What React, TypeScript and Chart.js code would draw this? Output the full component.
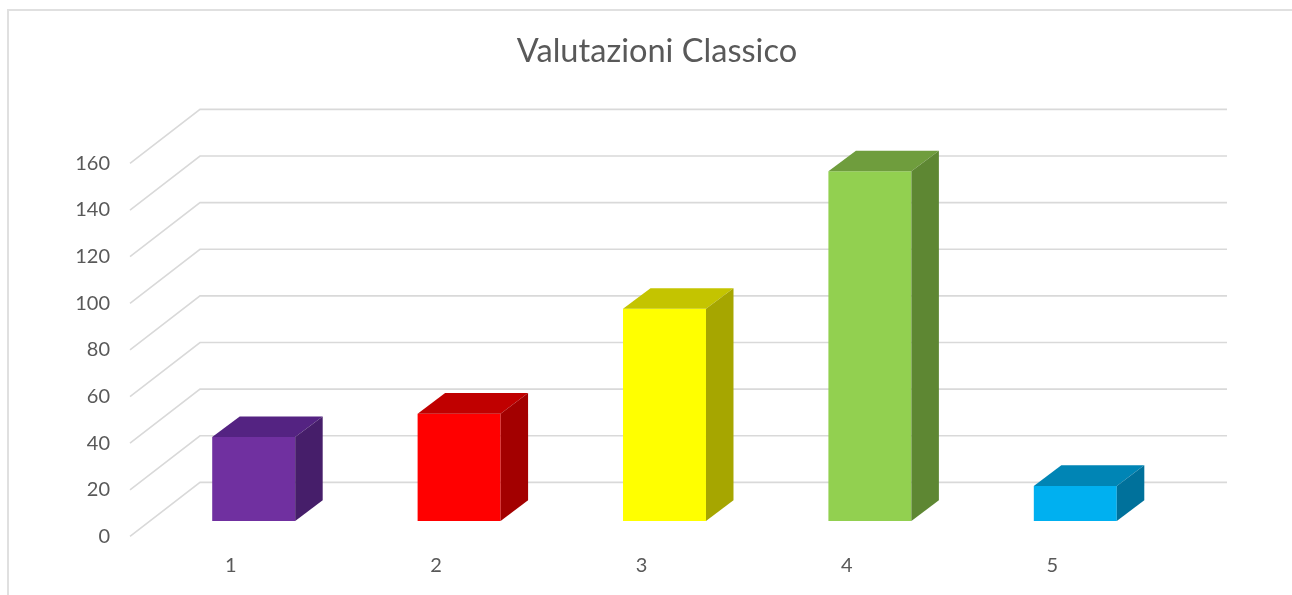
import React, { useEffect, useRef } from "react";
import { Chart, registerables } from "chart.js";

Chart.register(...registerables);

const title = "Valutazioni Classico";
const categories = ["1", "2", "3", "4", "5"];
const values = [36, 46, 91, 150, 15];
const yMin = 0;
const yMax = 160;
const yStep = 20;
const frontColors = ["#7030A0", "#FF0000", "#FFFF00", "#92D050", "#00B0F0"];
const topColors = ["#542382", "#C00000", "#C4C400", "#6F9D3D", "#0085B5"];
const sideColors = ["#461E6A", "#A30000", "#A6A600", "#5E8733", "#00719B"];

const W = 1292;
const H = 595;
const FONT = "Lato, 'Open Sans', sans-serif";
const TEXT = "#595959";
const GRID = "#d9d9d9";

// depth geometry (px)
const BAR_DX = 27.5;
const BAR_DY = -20.7;
const FLOOR_FRONT_DX = -21;
const FLOOR_FRONT_DY = 15.4;
const WALL_DX = 49;
const WALL_DY = -38.6;

const threeD = {
  id: "threeD",
  beforeDatasetsDraw(chart: any) {
    const { ctx, chartArea } = chart;
    const ys = chart.scales.y;
    ctx.save();
    ctx.strokeStyle = GRID;
    ctx.lineWidth = 1.6;
    ys.ticks.forEach((t: any) => {
      const yy = ys.getPixelForValue(t.value);
      ctx.beginPath();
      ctx.moveTo(chartArea.left + FLOOR_FRONT_DX, yy + FLOOR_FRONT_DY);
      ctx.lineTo(chartArea.left + WALL_DX, yy + WALL_DY);
      ctx.lineTo(chartArea.right + WALL_DX, yy + WALL_DY);
      ctx.stroke();
    });
    ctx.restore();
  },
  afterDatasetsDraw(chart: any) {
    const { ctx } = chart;
    const meta = chart.getDatasetMeta(0);
    ctx.save();
    meta.data.forEach((bar: any, i: number) => {
      const { x, y, base, width } = bar.getProps(["x", "y", "base", "width"], true);
      const l = x - width / 2;
      const r = x + width / 2;
      ctx.fillStyle = topColors[i];
      ctx.beginPath();
      ctx.moveTo(l, y);
      ctx.lineTo(l + BAR_DX, y + BAR_DY);
      ctx.lineTo(r + BAR_DX, y + BAR_DY);
      ctx.lineTo(r, y);
      ctx.closePath();
      ctx.fill();
      ctx.fillStyle = sideColors[i];
      ctx.beginPath();
      ctx.moveTo(r, y);
      ctx.lineTo(r + BAR_DX, y + BAR_DY);
      ctx.lineTo(r + BAR_DX, base + BAR_DY);
      ctx.lineTo(r, base);
      ctx.closePath();
      ctx.fill();
    });
    ctx.restore();
  },
};

export default function App() {
  const ref = useRef<HTMLCanvasElement | null>(null);
  useEffect(() => {
    if (!ref.current) return;
    const chart = new Chart(ref.current, {
      type: "bar",
      data: {
        labels: categories,
        datasets: [
          {
            data: values,
            backgroundColor: frontColors,
            borderWidth: 0,
            categoryPercentage: 1,
            barPercentage: 0.404,
          },
        ],
      },
      options: {
        responsive: false,
        animation: false,
        layout: { padding: { left: 22, right: 0, top: 0, bottom: 0 } },
        plugins: {
          legend: { display: false },
          tooltip: { enabled: false },
          title: {
            display: true,
            text: title,
            color: TEXT,
            font: { family: FONT, size: 32.6, weight: "normal" },
            padding: { top: 32, bottom: 76.9 },
          },
        },
        scales: {
          x: {
            grid: { display: false, drawTicks: false },
            border: { display: false },
            ticks: {
              color: TEXT,
              font: { family: FONT, size: 20 },
              padding: 33,
              labelOffset: -23,
              maxRotation: 0,
            },
            afterFit(scale: any) {
              scale.height = 74;
            },
          },
          y: {
            min: yMin,
            max: yMax,
            grid: { display: false, drawTicks: false },
            border: { display: false },
            ticks: {
              stepSize: yStep,
              color: TEXT,
              font: { family: FONT, size: 20 },
              padding: 41,
              labelOffset: 15.4,
            },
            afterFit(scale: any) {
              scale.width = 129;
            },
          },
          yRight: {
            position: "right",
            min: yMin,
            max: yMax,
            grid: { display: false, drawTicks: false },
            border: { display: false },
            ticks: { display: false },
            afterFit(scale: any) {
              scale.width = 114;
            },
          },
        },
      },
      plugins: [threeD],
    });
    return () => chart.destroy();
  }, []);
  return (
    <div style={{ position: "fixed", left: 0, top: 0, width: W, height: H, background: "#fff", overflow: "hidden" }}>
      <div
        style={{
          position: "absolute",
          left: 7,
          top: 9,
          width: W - 7,
          height: H - 9,
          borderTop: "2px solid #e0e0e0",
          borderLeft: "2px solid #e0e0e0",
          boxSizing: "border-box",
        }}
      />
      <canvas ref={ref} width={W} height={H} style={{ position: "absolute", left: 0, top: 0, width: W, height: H }} />
    </div>
  );
}
